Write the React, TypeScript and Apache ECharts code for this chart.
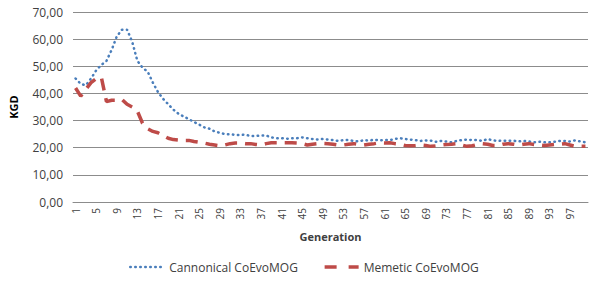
import React, { useEffect, useRef } from "react";
import * as echarts from "echarts";

const generations: string[] = Array.from({ length: 100 }, (_, i) => String(i + 1));

const cannonical: number[] = [
  45.5, 43.5, 43.0, 45.5, 48.5, 50.5, 52.0, 56.0, 61.0, 63.5,
  63.5, 59.0, 52.0, 49.5, 48.0, 44.0, 40.5, 38.0, 36.0, 34.0,
  32.5, 31.5, 30.5, 29.5, 28.5, 27.5, 27.0, 26.0, 25.5, 25.0,
  25.0, 24.7, 24.7, 24.8, 24.3, 24.3, 24.5, 24.5, 23.8, 23.5,
  23.5, 23.3, 23.5, 23.5, 23.8, 23.5, 23.2, 23.0, 23.2, 23.0,
  22.8, 22.5, 22.8, 22.8, 22.5, 22.3, 22.8, 22.6, 23.0, 22.7,
  22.8, 22.8, 23.2, 23.5, 23.2, 23.0, 22.8, 22.5, 22.7, 22.6,
  22.2, 22.5, 22.3, 22.0, 22.5, 22.8, 23.0, 22.8, 22.8, 22.5,
  23.2, 22.7, 22.5, 22.6, 22.6, 22.6, 22.3, 22.5, 22.3, 22.0,
  22.2, 22.0, 22.0, 22.2, 22.5, 22.5, 22.3, 22.7, 22.3, 22.0,
];

const memetic: number[] = [
  42.0, 39.0, 41.5, 44.0, 45.5, 46.0, 37.0, 37.5, 37.5, 37.8,
  36.0, 35.0, 33.5, 29.0, 27.0, 26.0, 25.5, 24.5, 23.5, 23.0,
  22.8, 22.7, 22.7, 22.3, 22.0, 21.7, 21.3, 21.0, 20.7, 21.0,
  21.5, 21.7, 21.7, 21.5, 21.5, 21.2, 21.0, 21.5, 21.8, 21.8,
  21.8, 21.8, 21.8, 21.7, 21.5, 21.0, 21.3, 21.5, 21.6, 21.5,
  21.3, 21.0, 21.0, 21.3, 21.5, 21.2, 21.0, 21.3, 21.5, 21.8,
  21.7, 21.8, 21.5, 21.3, 20.8, 20.7, 20.8, 21.0, 20.8, 20.5,
  20.7, 21.0, 21.2, 21.3, 21.5, 21.0, 20.5, 20.7, 21.2, 21.5,
  21.3, 20.8, 20.8, 21.3, 21.5, 21.3, 21.0, 21.3, 21.5, 21.2,
  21.0, 20.8, 21.0, 21.2, 21.3, 21.5, 21.0, 20.5, 20.5, 20.5,
];

const seriesNames = ["Cannonical CoEvoMOG", "Memetic CoEvoMOG"];

export default function App() {
  const ref = useRef<HTMLDivElement>(null);
  useEffect(() => {
    if (!ref.current) return;
    const chart = echarts.init(ref.current, null, { renderer: "svg" });
    const font = "'Open Sans', sans-serif";
    const blue = "#4a7ebb";
    const red = "#be4b48";
    chart.setOption({
      animation: false,
      textStyle: { fontFamily: font },
      grid: { left: 73, right: 4, top: 12, bottom: 85, containLabel: false },
      legend: {
        bottom: 9,
        left: 124,
        itemGap: 25,
        itemWidth: 34,
        itemHeight: 4,
        textStyle: { fontSize: 12, color: "#404040", fontFamily: font },
        data: [
          {
            name: seriesNames[0],
            lineStyle: { type: [0.5, 4.5], cap: "round", width: 2.5, color: blue },
            itemStyle: { color: "rgba(0,0,0,0)", opacity: 0, borderWidth: 0 },
          },
          {
            name: seriesNames[1],
            lineStyle: { type: [12, 12], cap: "butt", width: 3.5, color: red },
            itemStyle: { color: "rgba(0,0,0,0)", opacity: 0, borderWidth: 0 },
          },
        ],
      },
      xAxis: {
        type: "category",
        data: generations,
        boundaryGap: true,
        name: "Generation",
        nameLocation: "middle",
        nameGap: 29,
        nameTextStyle: { fontWeight: "bold", fontSize: 11, color: "#404040", fontFamily: font },
        axisLine: { show: true, lineStyle: { color: "#8c8c8c" } },
        axisTick: { show: false },
        axisLabel: { rotate: 90, interval: 3, fontSize: 10, color: "#404040", margin: 6 },
        splitLine: { show: false },
      },
      yAxis: {
        type: "value",
        min: 0,
        max: 70,
        interval: 10,
        name: "KGD",
        nameLocation: "middle",
        nameGap: 54,
        nameTextStyle: { fontWeight: "bold", fontSize: 11, color: "#000", fontFamily: font },
        axisLine: { show: false },
        axisTick: { show: false },
        axisLabel: {
          fontSize: 12,
          color: "#404040",
          margin: 10,
          formatter: (v: number) => v.toFixed(2).replace(".", ","),
        },
        splitLine: { lineStyle: { color: "#8c8c8c", width: 1 } },
      },
      series: [
        {
          name: seriesNames[0],
          type: "line",
          data: cannonical,
          symbol: "none",
          lineStyle: { color: blue, width: 2.5, type: [0.5, 4.5], cap: "round" },
          itemStyle: { color: blue },
        },
        {
          name: seriesNames[1],
          type: "line",
          data: memetic,
          symbol: "none",
          lineStyle: { color: red, width: 3.5, type: [12, 8] },
          itemStyle: { color: red },
        },
      ],
    });
    return () => chart.dispose();
  }, []);
  return (
    <div
      ref={ref}
      style={{ position: "absolute", left: 0, top: 0, width: 592, height: 287 }}
    />
  );
}
